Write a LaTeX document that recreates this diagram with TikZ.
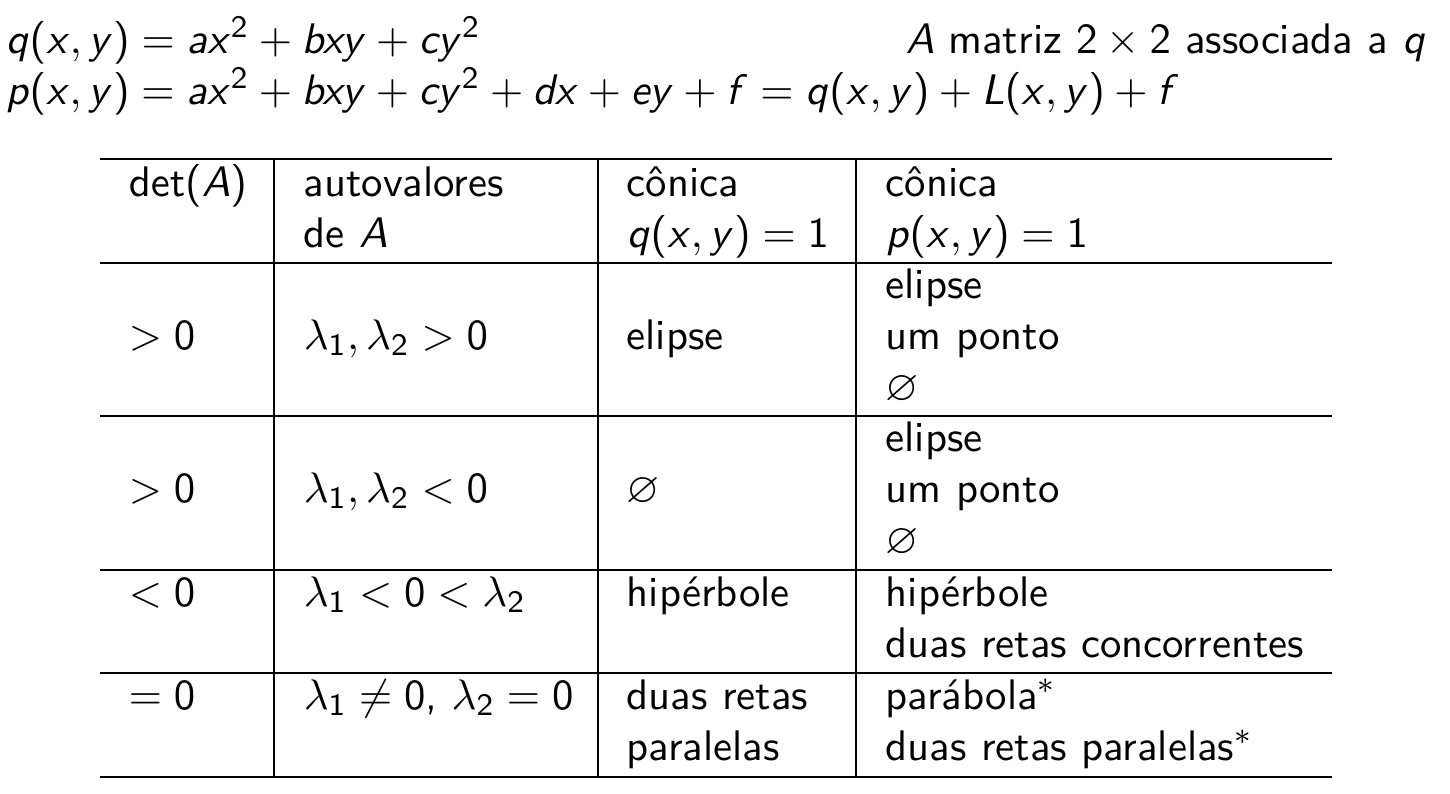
\documentclass[tikz,border=0pt]{standalone}
\usepackage{amssymb}
\renewcommand{\familydefault}{\sfdefault}
\DeclareSymbolFont{sfletters}{OT1}{cmss}{m}{sl}
\SetSymbolFont{operators}{normal}{OT1}{cmss}{m}{n}
\DeclareMathSymbol{a}{\mathalpha}{sfletters}{`a}
\DeclareMathSymbol{b}{\mathalpha}{sfletters}{`b}
\DeclareMathSymbol{c}{\mathalpha}{sfletters}{`c}
\DeclareMathSymbol{d}{\mathalpha}{sfletters}{`d}
\DeclareMathSymbol{e}{\mathalpha}{sfletters}{`e}
\DeclareMathSymbol{f}{\mathalpha}{sfletters}{`f}
\DeclareMathSymbol{p}{\mathalpha}{sfletters}{`p}
\DeclareMathSymbol{q}{\mathalpha}{sfletters}{`q}
\DeclareMathSymbol{x}{\mathalpha}{sfletters}{`x}
\DeclareMathSymbol{y}{\mathalpha}{sfletters}{`y}
\DeclareMathSymbol{A}{\mathalpha}{sfletters}{`A}
\DeclareMathSymbol{L}{\mathalpha}{sfletters}{`L}
\tikzset{
    cell/.style={anchor=base west, inner sep=0pt, font=\fontsize{10.95}{13.6}\selectfont},
    rule/.style={line width=0.6pt}
}

\begin{document}
\begin{tikzpicture}[x=0.2563pt, y=-0.2563pt]
                    \useasboundingbox (0,0) rectangle (1450,793);

                    \node[cell] (q) at (5,53) {$q(x,y)=ax^2+bxy+cy^2$};
                    \node[cell] (assoc) at (905,53) {$A$ matriz $2\times2$ associada a $q$};
                    \node[cell] (p) at (5,104) {$p(x,y)=ax^2+bxy+cy^2+dx+ey+f=q(x,y)+L(x,y)+f$};

                    \draw[rule] (100,159) -- (1332,159);
                    \draw[rule] (100,263) -- (1332,263);
                    \draw[rule] (100,416) -- (1332,416);
                    \draw[rule] (100,570) -- (1332,570);
                    \draw[rule] (100,673) -- (1332,673);
                    \draw[rule] (100,777) -- (1332,777);

                    \draw[rule] (274,159) -- (274,777);
                    \draw[rule] (598,159) -- (598,777);
                    \draw[rule] (856,159) -- (856,777);

                    \node[cell] (det) at (128,196) {$\det(A)$};
                    \node[cell] (auto) at (303,196) {autovalores};
                    \node[cell] (autoA) at (303,247) {de $A$};
                    \node[cell] (conq) at (626,196) {cônica};
                    \node[cell] (conqeq) at (626,247) {$q(x,y)=1$};
                    \node[cell] (conp) at (885,196) {cônica};
                    \node[cell] (conpeq) at (885,247) {$p(x,y)=1$};

                    \node[cell] (detA) at (128,349) {$>0$};
                    \node[cell] (autoA1) at (303,349) {$\lambda_1,\lambda_2>0$};
                    \node[cell] (qA) at (626,349) {elipse};
                    \node[cell] (pA1) at (885,298) {elipse};
                    \node[cell] (pA2) at (885,349) {um ponto};
                    \node[cell] (pA3) at (885,400) {$\varnothing$};

                    \node[cell] (detB) at (128,502) {$>0$};
                    \node[cell] (autoB) at (303,502) {$\lambda_1,\lambda_2<0$};
                    \node[cell] (qB) at (626,502) {$\varnothing$};
                    \node[cell] (pB1) at (885,451) {elipse};
                    \node[cell] (pB2) at (885,502) {um ponto};
                    \node[cell] (pB3) at (885,553) {$\varnothing$};

                    \node[cell] (detC) at (128,606) {$<0$};
                    \node[cell] (autoC) at (303,606) {$\lambda_1<0<\lambda_2$};
                    \node[cell] (qC) at (626,606) {hipérbole};
                    \node[cell] (pC1) at (885,606) {hipérbole};
                    \node[cell] (pC2) at (885,657) {duas retas concorrentes};

                    \node[cell] (detD) at (128,709) {$=0$};
                    \node[cell] (autoD) at (303,709) {$\lambda_1\neq0$, $\lambda_2=0$};
                    \node[cell] (qD1) at (626,709) {duas retas};
                    \node[cell] (qD2) at (626,760) {paralelas};
                    \node[cell] (pD1) at (885,709) {parábola$^*$};
                    \node[cell] (pD2) at (885,760) {duas retas paralelas$^*$};
                \end{tikzpicture}
\end{document}
